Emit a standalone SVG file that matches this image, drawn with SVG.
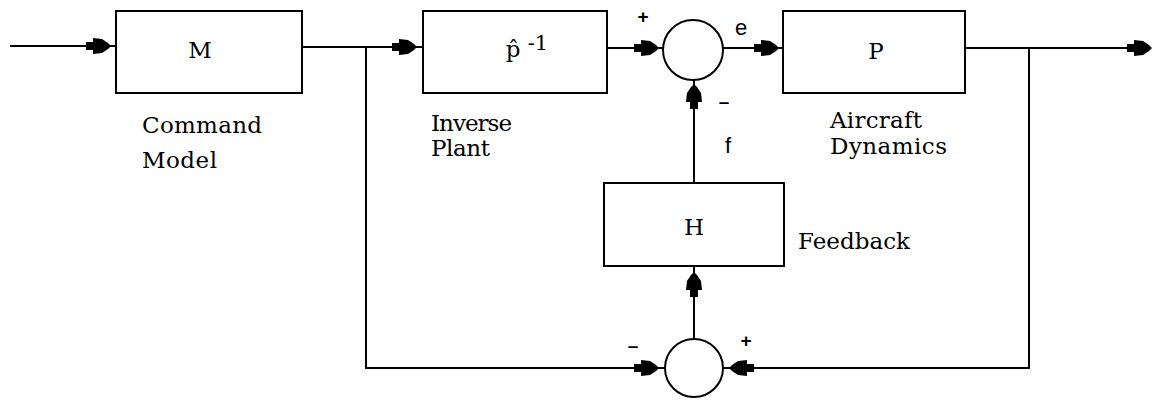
<svg xmlns="http://www.w3.org/2000/svg" width="1153" height="402" viewBox="0 0 1153 402">
<style>
.box{fill:#fff;stroke:#000;stroke-width:2}
.sum{fill:#fff;stroke:#000;stroke-width:2}
.ln{fill:none;stroke:#000;stroke-width:2}
.lbl{font-family:"DejaVu Serif","Liberation Serif",serif;font-size:23px;fill:#000}
.big{font-family:"DejaVu Serif","Liberation Serif",serif;font-size:23px;fill:#000;text-anchor:middle}
.sig{font-family:"Liberation Sans",sans-serif;font-size:22px;fill:#000}
.sgn{font-family:"Liberation Sans",sans-serif;font-size:19px;font-weight:bold;fill:#000;text-anchor:middle}
</style>
<defs>
<path id="ah" d="M-25,-4 L-18,-4 L-18,-8 L-9,-7 L-3,-3 L0,0 L-3,3 L-9,7 L-18,8 L-18,4 L-25,4 Z" fill="#000"/>
</defs>
<g id="connectors">
<path class="ln" d="M10,46 L116,46"/>
<path class="ln" d="M302,47 L423,47"/>
<path class="ln" d="M607,48 L663,48"/>
<path class="ln" d="M723,48 L783,48"/>
<path class="ln" d="M965,48 L1150,48"/>
<path class="ln" d="M366,47 L366,368 L665,368"/>
<path class="ln" d="M1029,48 L1029,368 L723,368"/>
<path class="ln" d="M694,183 L694,80"/>
<path class="ln" d="M694,339 L694,266"/>
<use href="#ah" transform="translate(111,46)"/>
<use href="#ah" transform="translate(417,47)"/>
<use href="#ah" transform="translate(659,48)"/>
<use href="#ah" transform="translate(779,48)"/>
<use href="#ah" transform="translate(1152,48)"/>
<use href="#ah" transform="translate(694,84) rotate(-90)"/>
<use href="#ah" transform="translate(694,272) rotate(-90)"/>
<use href="#ah" transform="translate(659,368)"/>
<use href="#ah" transform="translate(729,368) rotate(180)"/>
</g>
<g id="node-M">
<rect class="box" x="116" y="11" width="186" height="82"/>
<text class="big" x="200" y="58">M</text>
<text class="lbl" x="142" y="133" textLength="120" lengthAdjust="spacing">Command</text>
<text class="lbl" x="142" y="168" textLength="75" lengthAdjust="spacing">Model</text>
</g>
<g id="node-Pinv">
<rect class="box" x="423" y="11" width="184" height="82"/>
<text class="big" x="513" y="57">p̂</text>
<text class="big" x="538" y="50" style="font-size:21px">-1</text>
<text class="lbl" x="431" y="131" textLength="81" lengthAdjust="spacing">Inverse</text>
<text class="lbl" x="431" y="156" textLength="59" lengthAdjust="spacing">Plant</text>
</g>
<g id="sum-top">
<circle class="sum" cx="693" cy="50" r="30"/>
<text class="sgn" x="643" y="23">+</text>
<text class="sgn" x="724" y="108">–</text>
<text class="sig" x="735" y="35">e</text>
<text class="sig" x="725" y="153">f</text>
</g>
<g id="node-P">
<rect class="box" x="783" y="11" width="182" height="82"/>
<text class="big" x="876" y="59">P</text>
<text class="lbl" x="830" y="128" textLength="92" lengthAdjust="spacing">Aircraft</text>
<text class="lbl" x="830" y="154" textLength="117" lengthAdjust="spacing">Dynamics</text>
</g>
<g id="node-H">
<rect class="box" x="604" y="183" width="180" height="83"/>
<text class="big" x="694" y="235">H</text>
<text class="lbl" x="798" y="249" textLength="112" lengthAdjust="spacing">Feedback</text>
</g>
<g id="sum-bottom">
<circle class="sum" cx="694" cy="368" r="29"/>
<text class="sgn" x="633" y="352">–</text>
<text class="sgn" x="746" y="347">+</text>
</g>
</svg>
